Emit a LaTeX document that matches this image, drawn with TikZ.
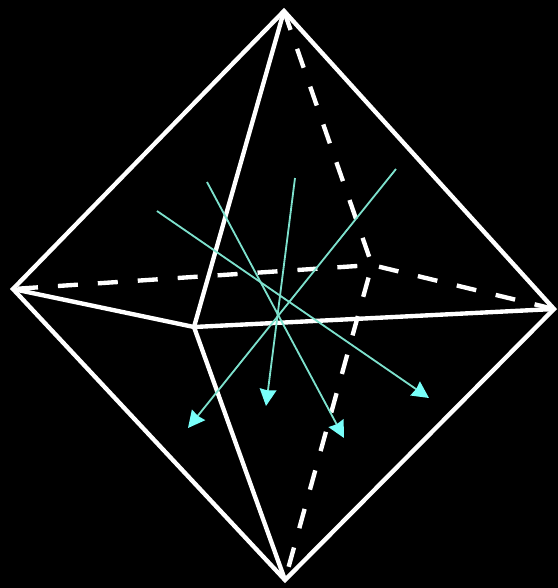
\documentclass[tikz,border=0pt]{standalone}
\usepackage{amsmath,amssymb}
\usetikzlibrary{arrows.meta}
\definecolor{axisline}{RGB}{125,225,205}
\definecolor{axishead}{RGB}{120,255,250}
\tikzset{edgeline/.style={draw=white, line width=3.1pt, line join=miter},
  hiddenline/.style={edgeline, dash pattern=on 0.5cm off 0.5cm},
  axisarrow/.style={-{Stealth[length=0.42cm, width=0.42cm, inset=0.03cm, fill=axishead, color=axishead]}, draw=axisline, line width=1.3pt}}

\begin{document}
\begin{tikzpicture}[x=0.025cm, y=-0.025cm]
\fill[black] (0,0) rectangle (558,588);
\coordinate (top) at (284,11);
\coordinate (bottom) at (285,580);
\coordinate (left) at (13,289);
\coordinate (right) at (554,309);
\coordinate (front) at (194,327);
\coordinate (back) at (372,265);
\draw[hiddenline] (top) -- (back);
\draw[hiddenline, dash phase=0.875cm] (left) -- (back);
\draw[hiddenline] (right) -- (back);
\draw[hiddenline, dash phase=0.675cm] (back) -- (bottom);
\draw[edgeline] (top) -- (right) -- (bottom) -- (left) -- cycle;
\draw[edgeline] (top) -- (front) -- (bottom);
\draw[edgeline] (left) -- (front) -- (right);
\coordinate (a1) at (396,169);
\coordinate (b1) at (188,428);
\coordinate (a2) at (295,178);
\coordinate (b2) at (266,406);
\coordinate (a3) at (207,182);
\coordinate (b3) at (344,438);
\coordinate (a4) at (157,211);
\coordinate (b4) at (429,398);
\draw[axisarrow] (a1) -- (b1);
\draw[axisarrow] (a2) -- (b2);
\draw[axisarrow] (a3) -- (b3);
\draw[axisarrow] (a4) -- (b4);
\end{tikzpicture}
\end{document}
